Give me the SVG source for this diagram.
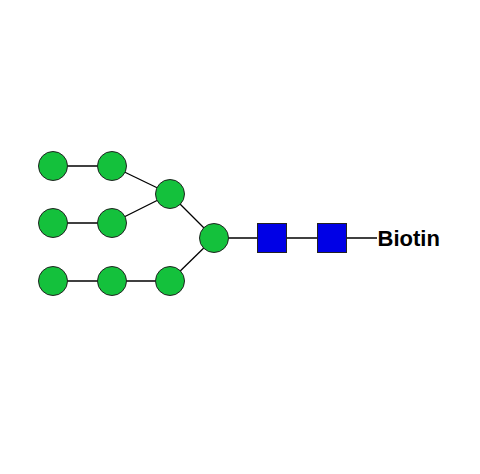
<svg xmlns="http://www.w3.org/2000/svg" width="480" height="474" viewBox="0 0 480 474">
<style>
.c{fill:#14c13c;stroke:#222;stroke-width:1}
.s{fill:#0000e6;stroke:#222;stroke-width:1}
.l{stroke:#000;stroke-width:1.3;fill:none}
.t{font-family:"Liberation Sans",Arial,sans-serif;font-weight:bold;font-size:22px;fill:#000}
</style>
<rect width="480" height="474" fill="#fff"/>
<g id="connectors">
<line class="l" x1="53" y1="166" x2="112" y2="166"/>
<line class="l" x1="112" y1="166" x2="170" y2="194"/>
<line class="l" x1="53" y1="223" x2="112" y2="223"/>
<line class="l" x1="112" y1="223" x2="170" y2="194"/>
<line class="l" x1="170" y1="194" x2="214" y2="238"/>
<line class="l" x1="53" y1="281" x2="170" y2="281"/>
<line class="l" x1="170" y1="281" x2="214" y2="238"/>
<line class="l" x1="214" y1="238" x2="377" y2="238"/>
</g>
<g id="n1"><circle class="c" cx="53" cy="166" r="14.5"/></g>
<g id="n2"><circle class="c" cx="112" cy="166" r="14.5"/></g>
<g id="n3"><circle class="c" cx="53" cy="223" r="14.5"/></g>
<g id="n4"><circle class="c" cx="112" cy="223" r="14.5"/></g>
<g id="n5"><circle class="c" cx="170" cy="194" r="14.5"/></g>
<g id="n6"><circle class="c" cx="53" cy="281" r="14.5"/></g>
<g id="n7"><circle class="c" cx="112" cy="281" r="14.5"/></g>
<g id="n8"><circle class="c" cx="170" cy="281" r="14.5"/></g>
<g id="n9"><circle class="c" cx="214" cy="238" r="14.5"/></g>
<g id="s1"><rect class="s" x="257.5" y="223.5" width="29" height="29"/></g>
<g id="s2"><rect class="s" x="317.5" y="223.5" width="29" height="29"/></g>
<g id="biotin"><text class="t" x="377.5" y="246">Biotin</text></g>
</svg>
